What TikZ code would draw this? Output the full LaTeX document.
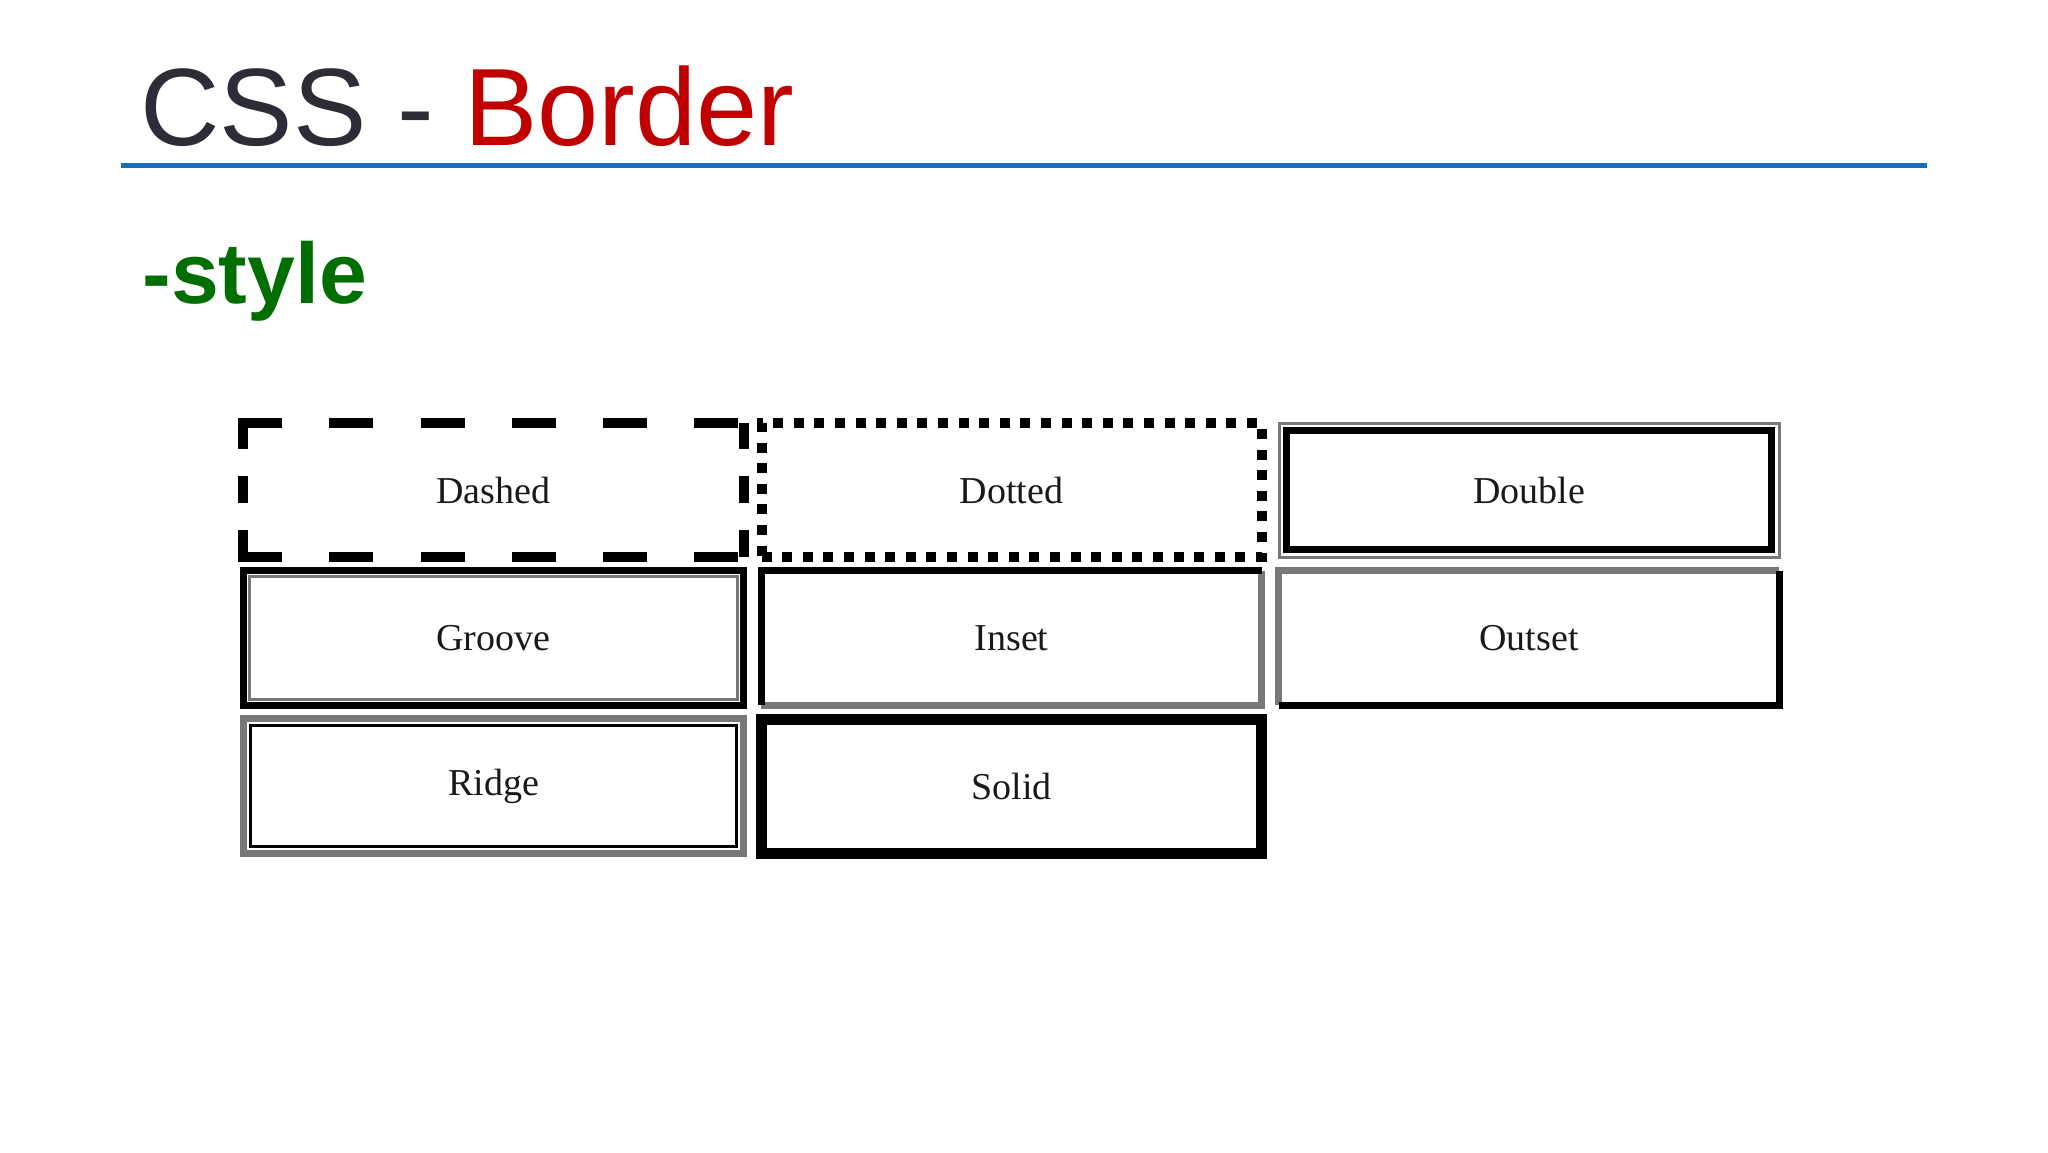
\documentclass[tikz,border=0pt]{standalone}
\usepackage{fontspec}
\setmainfont{Liberation Serif}
\newfontfamily\arialf{Liberation Sans}
\definecolor{titlegray}{RGB}{45,45,55}
\definecolor{titlered}{RGB}{192,0,0}
\definecolor{lineblue}{RGB}{20,110,190}
\definecolor{stylegreen}{RGB}{0,110,0}
\definecolor{midgray}{RGB}{120,120,120}
\begin{document}
\begin{tikzpicture}[x=0.5pt,y=-0.5pt,
  cell/.style={minimum width=250pt,minimum height=67pt,inner sep=0pt,font=\fontsize{19}{19}\selectfont,text=black!90},
  hdash/.style={line width=5pt,dash pattern=on 22pt off 23.6pt},
  vdash/.style={line width=5pt,dash pattern=on 13.4pt off 13.4pt},
  dotbox/.style={draw,line width=5pt,dash pattern=on 5pt off 5.3pt},
  solidbox/.style={draw,line width=5pt},
  thickk/.style={line width=3.5pt},
  thinn/.style={line width=1.5pt}]
\useasboundingbox (0,0) rectangle (2048,1152);
\fill[white] (0,0) rectangle (2048,1152);
\node[anchor=base west,inner sep=0pt,font=\arialf\fontsize{55}{55}\selectfont,text=titlegray] (title) at (140,145) {CSS - \textcolor{titlered}{Border}};
\draw[lineblue,line width=2.5pt] (121,165) coordinate (l1) -- (1927,165) coordinate (l2);
\node[anchor=base west,inner sep=0pt,font=\arialf\bfseries\fontsize{43}{43}\selectfont,text=stylegreen] (sty) at (142,303) {-style};
% row 1
\node[cell] (dashed) at (493.5,490) {Dashed};
\draw[hdash] ([xshift=-2.5pt]dashed.north west) -- ([xshift=2.5pt]dashed.north east);
\draw[hdash] ([xshift=-2.5pt]dashed.south west) -- ([xshift=2.5pt]dashed.south east);
\draw[vdash] (dashed.north west) -- (dashed.south west);
\draw[vdash] (dashed.north east) -- (dashed.south east);
\node[cell,dotbox] (dotted) at (1011.5,490) {Dotted};
\node[cell,draw=midgray,line width=1.5pt] (double) at (1529,490) {Double};
\draw[thickk] ([shift={(9,-9)}]double.south west) rectangle ([shift={(-9,9)}]double.north east);
% row 2
\node[cell] (groove) at (493.5,638) {Groove};
\draw[thickk] (groove.south west) rectangle (groove.north east);
\draw[thinn,midgray] ([shift={(6,-6)}]groove.south west) rectangle ([shift={(-6,6)}]groove.north east);
\node[cell] (inset) at (1011.5,638) {Inset};
\draw[thickk,midgray] (inset.south west) -- (inset.south east) -- (inset.north east);
\draw[thickk] (inset.south west) -- (inset.north west) -- (inset.north east);
\node[cell] (outset) at (1529,638) {Outset};
\draw[thickk,midgray] (outset.south west) -- (outset.north west) -- (outset.north east);
\draw[thickk] (outset.south west) -- (outset.south east) -- (outset.north east);
% row 3
\node[cell] (ridge) at (493.5,786) {Ridge};
\draw[thickk,midgray] (ridge.south west) rectangle (ridge.north east);
\draw[thinn] ([shift={(7,-7)}]ridge.south west) rectangle ([shift={(-7,7)}]ridge.north east);
\node[cell,solidbox,line width=5.5pt] (solid) at (1011.5,786) {Solid};
\end{tikzpicture}
\end{document}
